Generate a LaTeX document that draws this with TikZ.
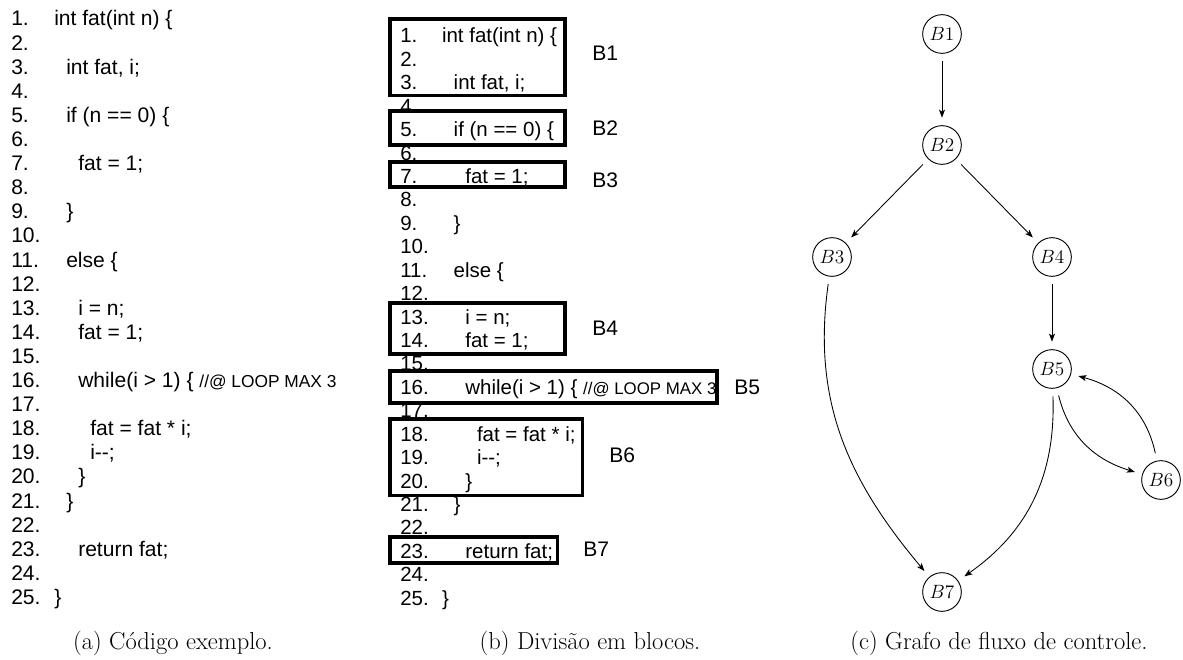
\documentclass[tikz,border=0pt]{standalone}
\usepackage{fontspec}
\newfontfamily\codefont{Liberation Sans}
\usetikzlibrary{arrows.meta}

\newcommand{\codesize}{\codefont\fontsize{15.8}{18}\selectfont}
\newcommand{\notesize}{\fontsize{13}{15}\selectfont}
\newcommand{\capsize}{\fontsize{18.4}{22}\selectfont}

\tikzset{
  codeline/.style={font=\codesize, anchor=base west, inner sep=0pt},
  blockbox/.style={draw, line width=2.4pt},
  blocklabel/.style={font=\codesize, anchor=west, inner sep=0pt},
  cfgnode/.style={draw, circle, line width=0.7pt, minimum size=29pt, inner sep=0pt,
    outer sep=6pt, font=\fontsize{13.3}{16}\selectfont},
  flow/.style={-{Stealth[length=6pt,width=4.5pt,inset=1.5pt]}, line width=0.65pt},
  caption/.style={font=\capsize, inner sep=0pt}
}

% the 25 numbered lines of fat(), #1 prefixes the node names
\newcommand{\fatlisting}[1]{%
  \foreach \n/\ind/\txt in {
    1/0/{int fat(int n) \{}, 2/0/{}, 3/1/{int fat, i;}, 4/0/{},
    5/1/{if (n == 0) \{}, 6/0/{}, 7/2/{fat = 1;}, 8/0/{}, 9/1/{\}},
    10/0/{}, 11/1/{else \{}, 12/0/{}, 13/2/{i = n;}, 14/2/{fat = 1;},
    15/0/{}, 16/2/{while(i > 1) \{ {\notesize //@ LOOP MAX 3}}, 17/0/{},
    18/3/{fat = fat * i;}, 19/3/{i-{}-;}, 20/2/{\}}, 21/1/{\}}, 22/0/{},
    23/2/{return fat;}, 24/0/{}, 25/0/{\}}
  }{
    \node[codeline] (#1-n\n) at (0,{-(\n-1)*24.1}) {\n.};
    \node[codeline] (#1-c\n) at ({43+12*\ind},{-(\n-1)*24.1}) {\txt};
  }%
}

\begin{document}
\begin{tikzpicture}[x=0.75pt,y=0.75pt]
\useasboundingbox (0,0) rectangle (1183,-660);

% (a) plain listing
\begin{scope}[shift={(11,-26)}]
  \fatlisting{a}
\end{scope}

% (b) same listing, split into blocks
\begin{scope}[shift={(400,-43)}, scale=0.972, transform shape]
  \fatlisting{b}
\end{scope}
\draw[blockbox] (390,-19) rectangle (565,-95.5);
\draw[blockbox] (390,-111) rectangle (565,-145);
\draw[blockbox] (390,-162) rectangle (565,-187);
\draw[blockbox] (390,-303) rectangle (565,-354);
\draw[blockbox] (390,-371) rectangle (717,-403);
\draw[blockbox] (390,-419) rectangle (582.5,-495.5);
\draw[blockbox] (390,-537) rectangle (557.5,-563);
\node[blocklabel] (lb1) at (592,-53) {B1};
\node[blocklabel] (lb2) at (592,-128) {B2};
\node[blocklabel] (lb3) at (592,-180) {B3};
\node[blocklabel] (lb4) at (592,-328) {B4};
\node[blocklabel] (lb5) at (734,-387) {B5};
\node[blocklabel] (lb6) at (609,-455) {B6};
\node[blocklabel] (lb7) at (583,-549) {B7};

% (c) control flow graph
\node[cfgnode] (b1) at (942,-34) {$B1$};
\node[cfgnode] (b2) at (942,-145) {$B2$};
\node[cfgnode] (b3) at (832,-257) {$B3$};
\node[cfgnode] (b4) at (1052,-257) {$B4$};
\node[cfgnode] (b5) at (1052,-369) {$B5$};
\node[cfgnode] (b6) at (1161,-480) {$B6$};
\node[cfgnode] (b7) at (942,-592) {$B7$};

\draw[flow] (b1) -- (b2);
\draw[flow] (b2) -- (b3);
\draw[flow] (b2) -- (b4);
\draw[flow] (b4) -- (b5);
\draw[flow] (b3) to[out=-98, in=130] (b7);
\draw[flow] (b5) to[out=-88, in=35] (b7);
\draw[flow] (b5) to[out=-76, in=163] (b6);
\draw[flow] (b6) to[out=102, in=-15] (b5);

% captions
\node[caption] (capa) at (173,-643) {(a) Código exemplo.};
\node[caption] (capb) at (590,-643) {(b) Divisão em blocos.};
\node[caption] (capc) at (999,-643) {(c) Grafo de fluxo de controle.};
\end{tikzpicture}
\end{document}
